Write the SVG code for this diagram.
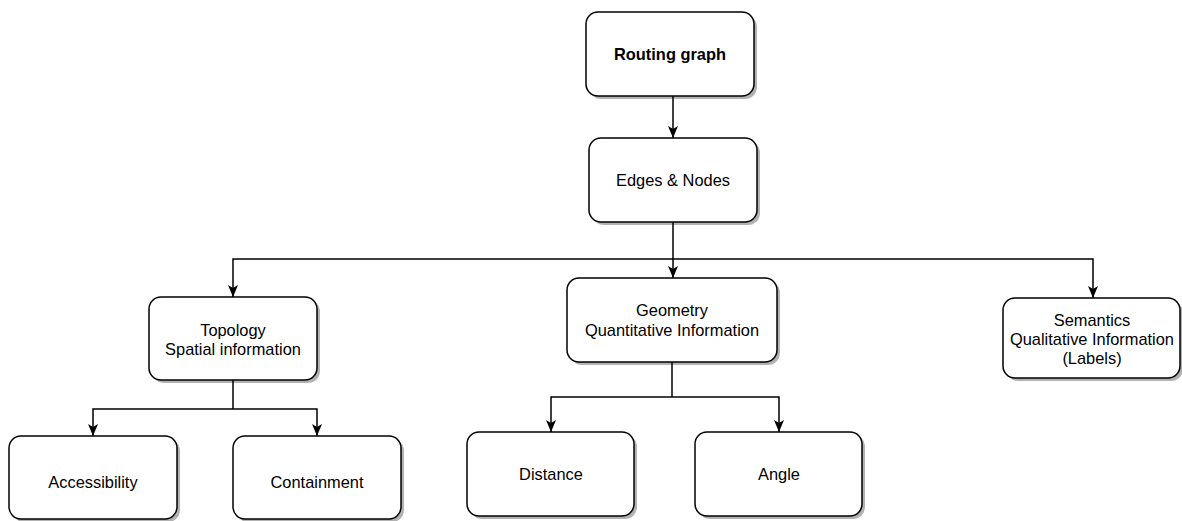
<svg xmlns="http://www.w3.org/2000/svg" width="1182" height="521" viewBox="0 0 1182 521">
  <defs>
    <marker id="arrow" viewBox="0 0 12 10" refX="12" refY="5" markerWidth="12" markerHeight="10" markerUnits="userSpaceOnUse" orient="auto">
      <path d="M0,0 L12,5 L0,10 L3,5 Z" fill="#000"/>
    </marker>
  </defs>
  <style>
    .box { fill: #fff; stroke: #000; stroke-width: 1.5; }
    .shadow { fill: #000; opacity: 0.3; }
    .lbl { font-family: "Liberation Sans", Arial, Helvetica, sans-serif; font-size: 16.4px; fill: #000; text-anchor: middle; }
    .bold { font-weight: bold; }
    .edge { fill: none; stroke: #000; stroke-width: 1.5; marker-end: url(#arrow); }
    .line { fill: none; stroke: #000; stroke-width: 1.5; }
  </style>
  <rect width="1182" height="521" fill="#fff"/>

  <!-- connectors -->
  <g id="connectors">
    <path class="edge" d="M673,96 V138"/>
    <path class="line" d="M673,222 V259"/>
    <path class="edge" d="M673,259 V278"/>
    <path class="edge" d="M673,259 H233 V297"/>
    <path class="edge" d="M673,259 H1093 V298"/>
    <path class="line" d="M233,380 V409"/>
    <path class="edge" d="M233,409 H93 V436"/>
    <path class="edge" d="M233,409 H317 V436"/>
    <path class="line" d="M672,362 V397"/>
    <path class="edge" d="M672,397 H551 V432"/>
    <path class="edge" d="M672,397 H779 V432"/>
  </g>

  <g id="routing-graph">
    <rect class="shadow" x="589" y="15" width="168" height="84" rx="12"/>
    <rect class="box" x="586" y="12" width="168" height="84" rx="12"/>
    <text class="lbl bold" x="670" y="60">Routing graph</text>
  </g>

  <g id="edges-nodes">
    <rect class="shadow" x="592" y="141" width="168" height="84" rx="12"/>
    <rect class="box" x="589" y="138" width="168" height="84" rx="12"/>
    <text class="lbl" x="673" y="186">Edges &amp; Nodes</text>
  </g>

  <g id="topology">
    <rect class="shadow" x="152" y="300" width="168" height="83" rx="12"/>
    <rect class="box" x="149" y="297" width="168" height="83" rx="12"/>
    <text class="lbl" x="233" y="336">Topology</text>
    <text class="lbl" x="233" y="355">Spatial information</text>
  </g>

  <g id="geometry">
    <rect class="shadow" x="570" y="281" width="210" height="84" rx="12"/>
    <rect class="box" x="567" y="278" width="210" height="84" rx="12"/>
    <text class="lbl" x="672" y="316">Geometry</text>
    <text class="lbl" x="672" y="336">Quantitative Information</text>
  </g>

  <g id="semantics">
    <rect class="shadow" x="1006" y="301" width="177" height="80" rx="12"/>
    <rect class="box" x="1003" y="298" width="177" height="80" rx="12"/>
    <text class="lbl" x="1092" y="326">Semantics</text>
    <text class="lbl" x="1092" y="345">Qualitative Information</text>
    <text class="lbl" x="1092" y="364">(Labels)</text>
  </g>

  <g id="accessibility">
    <rect class="shadow" x="12" y="439" width="168" height="83" rx="12"/>
    <rect class="box" x="9" y="436" width="168" height="83" rx="12"/>
    <text class="lbl" x="93" y="488">Accessibility</text>
  </g>

  <g id="containment">
    <rect class="shadow" x="236" y="439" width="168" height="83" rx="12"/>
    <rect class="box" x="233" y="436" width="168" height="83" rx="12"/>
    <text class="lbl" x="317" y="488">Containment</text>
  </g>

  <g id="distance">
    <rect class="shadow" x="470" y="435" width="167" height="84" rx="12"/>
    <rect class="box" x="467" y="432" width="167" height="84" rx="12"/>
    <text class="lbl" x="551" y="480">Distance</text>
  </g>

  <g id="angle">
    <rect class="shadow" x="698" y="435" width="167" height="84" rx="12"/>
    <rect class="box" x="695" y="432" width="167" height="84" rx="12"/>
    <text class="lbl" x="779" y="480">Angle</text>
  </g>
</svg>
